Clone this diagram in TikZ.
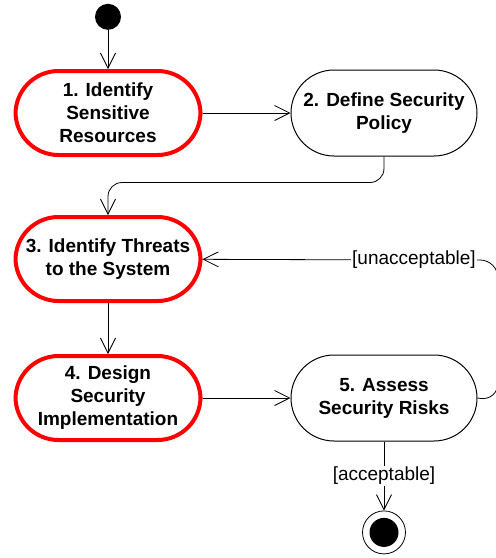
\documentclass[tikz,border=0pt]{standalone}
\usepackage{fontspec}
\setmainfont{Liberation Sans}
\usetikzlibrary{positioning, quotes, arrows.meta}

\begin{document}
\begin{tikzpicture}
        [
        x=1pt, y=-1pt,
        >={Straight Barb[length=15pt,width=15pt]},
        every edge quotes/.style = {font=\fontsize{19}{23}\selectfont, fill=white, inner sep=1pt},
        activity/.style = {draw, line width=1pt, rounded corners=43pt, minimum width=186pt, minimum height=86pt, align=center, font=\fontsize{19}{23}\selectfont\bfseries},
        key/.style = {activity, draw=red, line width=4pt, minimum width=185pt, minimum height=84pt},
        guard/.style = {font=\fontsize{19}{23}\selectfont, fill=white, inner sep=1pt},
        flow/.style = {line width=0.8pt}
        ]
    \useasboundingbox (0,0) rectangle (496,558);
    \clip (0,0) rectangle (496,558);

    \node[key] (n1) at (108,113) {1. Identify\\Sensitive\\Resources};
    \node[activity, right=88pt of n1] (n2) {2. Define Security\\Policy};
    \node[key, below=58pt of n1] (n3) {3. Identify Threats\\to the System};
    \node[key, below=51pt of n3] (n4) {4. Design\\Security\\Implementation};
    \node[activity, right=88pt of n4] (n5) {5. Assess\\Security Risks};
    \node[circle, fill, minimum size=26pt, inner sep=0pt, above=39pt of n1] (start) {};
    \node[circle, draw, line width=0.8pt, minimum size=43pt, inner sep=0pt, below=69pt of n5] (end) {};
    \fill (end) circle (14.5);
    \node[guard] (unacc) at (414,260) {[unacceptable]};

    \draw[flow, ->] (start) -- (n1);
    \draw[flow, ->] (n1) -- (n2);
    \draw[flow, ->, rounded corners=14pt] (n2.south) -- ++(0,26) -| (n3.north);
    \draw[flow, ->] (n3) -- (n4);
    \draw[flow, ->] (n4) -- (n5);
    \draw[flow, ->] (n5) edge["{[acceptable]}"] (end);
    \draw[flow, rounded corners=18pt] (n5.east) -- (498,401) -- (498,260) -- (unacc.east);
    \draw[flow, ->] (unacc) -- (n3);
\end{tikzpicture}
\end{document}
